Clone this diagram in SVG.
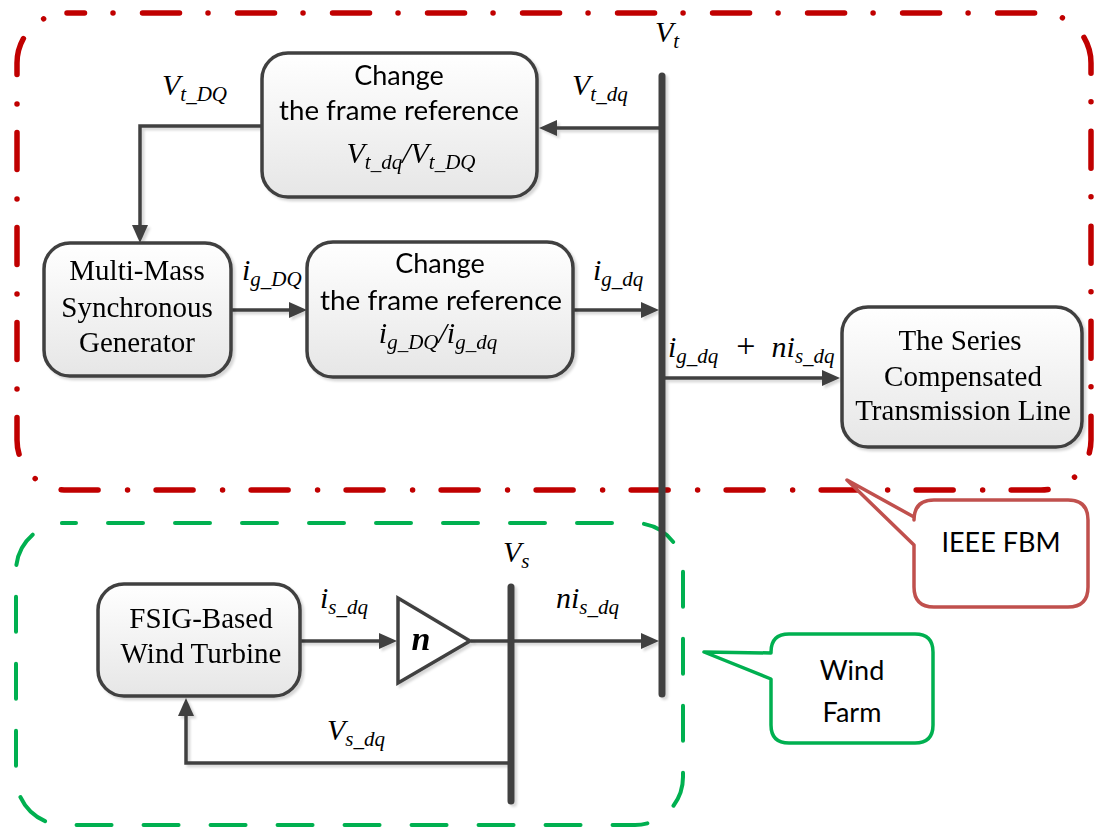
<svg xmlns="http://www.w3.org/2000/svg" width="1094" height="828" viewBox="0 0 1094 828">
<defs>
<linearGradient id="g" x1="0" y1="0" x2="0" y2="1">
<stop offset="0" stop-color="#FFFFFF"/>
<stop offset="1" stop-color="#E6E6E6"/>
</linearGradient>
<filter id="sh" x="-10%" y="-10%" width="130%" height="130%">
<feDropShadow dx="2.5" dy="2.5" stdDeviation="1" flood-color="#000" flood-opacity="0.16"/>
</filter>
<marker id="ah" viewBox="0 0 18 16" refX="10" refY="8" markerWidth="18" markerHeight="16" orient="auto" markerUnits="userSpaceOnUse">
<path d="M0,0 L18,8 L0,16 Z" fill="#404040"/>
</marker>
<style>
.box{fill:url(#g);stroke:#404040;stroke-width:3.5}
.ser{font-family:"Liberation Serif","Times New Roman",serif;font-size:29px;fill:#000;text-anchor:middle}
.sans{font-family:Lato,"Open Sans",sans-serif;font-size:27px;fill:#000;text-anchor:middle}
.m{font-family:"Liberation Serif","Times New Roman",serif;font-style:italic;font-size:30px;fill:#000}
.s{font-size:21px}
.wire{fill:none;stroke:#404040;stroke-width:3.5}
.bus{fill:none;stroke:#404040;stroke-width:7;stroke-linecap:round}
.red{fill:none;stroke:#C00000;stroke-width:5.5;stroke-linecap:round;stroke-dasharray:37 28.5 0.01 29.5;stroke-dashoffset:19.5}
.grn{fill:none;stroke:#00B050;stroke-width:4;stroke-linecap:round;stroke-dasharray:35 32;stroke-dashoffset:23}
</style>
</defs>
<rect width="1094" height="828" fill="#FFFFFF"/>

<g id="ieee-fbm-region">
<rect class="red" x="17" y="13" width="1074" height="477" rx="50" ry="50"/>
</g>
<g id="wind-farm-region">
<rect class="grn" x="16" y="523" width="667" height="302" rx="48" ry="48"/>
</g>

<g id="connectors" filter="url(#sh)">
<path class="bus" d="M662,76 V694"/>
<path class="bus" d="M511,587 V801"/>
<path class="wire" d="M662,128 H547" marker-end="url(#ah)"/>
<path class="wire" d="M262,126 H140 V235" marker-end="url(#ah)"/>
<path class="wire" d="M231,310 H299" marker-end="url(#ah)"/>
<path class="wire" d="M573,310 H651" marker-end="url(#ah)"/>
<path class="wire" d="M662,378 H832" marker-end="url(#ah)"/>
<path class="wire" d="M300,641 H389" marker-end="url(#ah)"/>
<path class="wire" d="M471,641 H651" marker-end="url(#ah)"/>
<path class="wire" d="M511,763 H186 V706" marker-end="url(#ah)"/>
</g>

<g id="labels">
<text class="m" x="655" y="42">V<tspan class="s" dy="6">t</tspan></text>
<text class="m" x="162" y="95">V<tspan class="s" dy="6">t_DQ</tspan></text>
<text class="m" x="572" y="95">V<tspan class="s" dy="6">t_dq</tspan></text>
<text class="m" x="242" y="280">i<tspan class="s" dy="6">g_DQ</tspan></text>
<text class="m" x="593" y="280">i<tspan class="s" dy="6">g_dq</tspan></text>
<text class="m" x="668" y="357">i<tspan class="s" dy="6">g_dq</tspan><tspan dy="-6" dx="18" font-style="normal" font-size="34">+</tspan><tspan dx="16">ni</tspan><tspan class="s" dy="6">s_dq</tspan></text>
<text class="m" x="320" y="608">i<tspan class="s" dy="6">s_dq</tspan></text>
<text class="m" x="503" y="562">V<tspan class="s" dy="6">s</tspan></text>
<text class="m" x="556" y="608">ni<tspan class="s" dy="6">s_dq</tspan></text>
<text class="m" x="327" y="740">V<tspan class="s" dy="6">s_dq</tspan></text>
</g>

<g id="frame-ref-vt" filter="url(#sh)">
<rect class="box" x="262" y="53" width="275" height="144" rx="26"/>
<text class="sans" x="399" y="85">Change</text>
<text class="sans" x="399" y="120" textLength="240" lengthAdjust="spacingAndGlyphs">the frame reference</text>
<text class="m" x="411" y="163" text-anchor="middle">V<tspan class="s" dy="6">t_dq</tspan><tspan dy="-6">/V</tspan><tspan class="s" dy="6">t_DQ</tspan></text>
</g>

<g id="mmsg" filter="url(#sh)">
<rect class="box" x="44" y="243" width="187" height="133" rx="26"/>
<text class="ser" x="137" y="280">Multi-Mass</text>
<text class="ser" x="137" y="317">Synchronous</text>
<text class="ser" x="137" y="352">Generator</text>
</g>

<g id="frame-ref-ig" filter="url(#sh)">
<rect class="box" x="307" y="242" width="266" height="135" rx="26"/>
<text class="sans" x="440" y="273">Change</text>
<text class="sans" x="441" y="310" textLength="242" lengthAdjust="spacingAndGlyphs">the frame reference</text>
<text class="m" x="438" y="343" text-anchor="middle">i<tspan class="s" dy="6">g_DQ</tspan><tspan dy="-6">/i</tspan><tspan class="s" dy="6">g_dq</tspan></text>
</g>

<g id="transmission-line" filter="url(#sh)">
<rect class="box" x="842" y="307" width="240" height="140" rx="26"/>
<text class="ser" x="960" y="350">The Series</text>
<text class="ser" x="963" y="386">Compensated</text>
<text class="ser" x="963" y="420">Transmission Line</text>
</g>

<g id="fsig" filter="url(#sh)">
<rect class="box" x="98" y="584" width="202" height="112" rx="26"/>
<text class="ser" x="201" y="628">FSIG-Based</text>
<text class="ser" x="201" y="663">Wind Turbine</text>
</g>

<g id="gain" filter="url(#sh)">
<polygon points="398,598 398,683 470,641" fill="#FFFFFF" stroke="#404040" stroke-width="3.5" stroke-linejoin="miter"/>
<text x="421" y="650" text-anchor="middle" font-family="Liberation Serif, serif" font-style="italic" font-weight="bold" font-size="34">n</text>
</g>

<g id="callout-ieee">
<path d="M934,500 H1068 Q1088,500 1088,520 V587 Q1088,607 1068,607 H934 Q914,607 914,587 V545 L847,480 L914,517 V520 Q914,500 934,500 Z" fill="#FFFFFF" stroke="#C0504D" stroke-width="3.5" stroke-linejoin="round"/>
<text class="sans" x="1001" y="552">IEEE FBM</text>
</g>

<g id="callout-wind">
<path d="M789,634 H915 Q933,634 933,652 V725 Q933,743 915,743 H789 Q771,743 771,725 V679 L704,652 L771,653 V652 Q771,634 789,634 Z" fill="#FFFFFF" stroke="#00B050" stroke-width="3.5" stroke-linejoin="round"/>
<text class="sans" x="852" y="680">Wind</text>
<text class="sans" x="852" y="722">Farm</text>
</g>
</svg>
